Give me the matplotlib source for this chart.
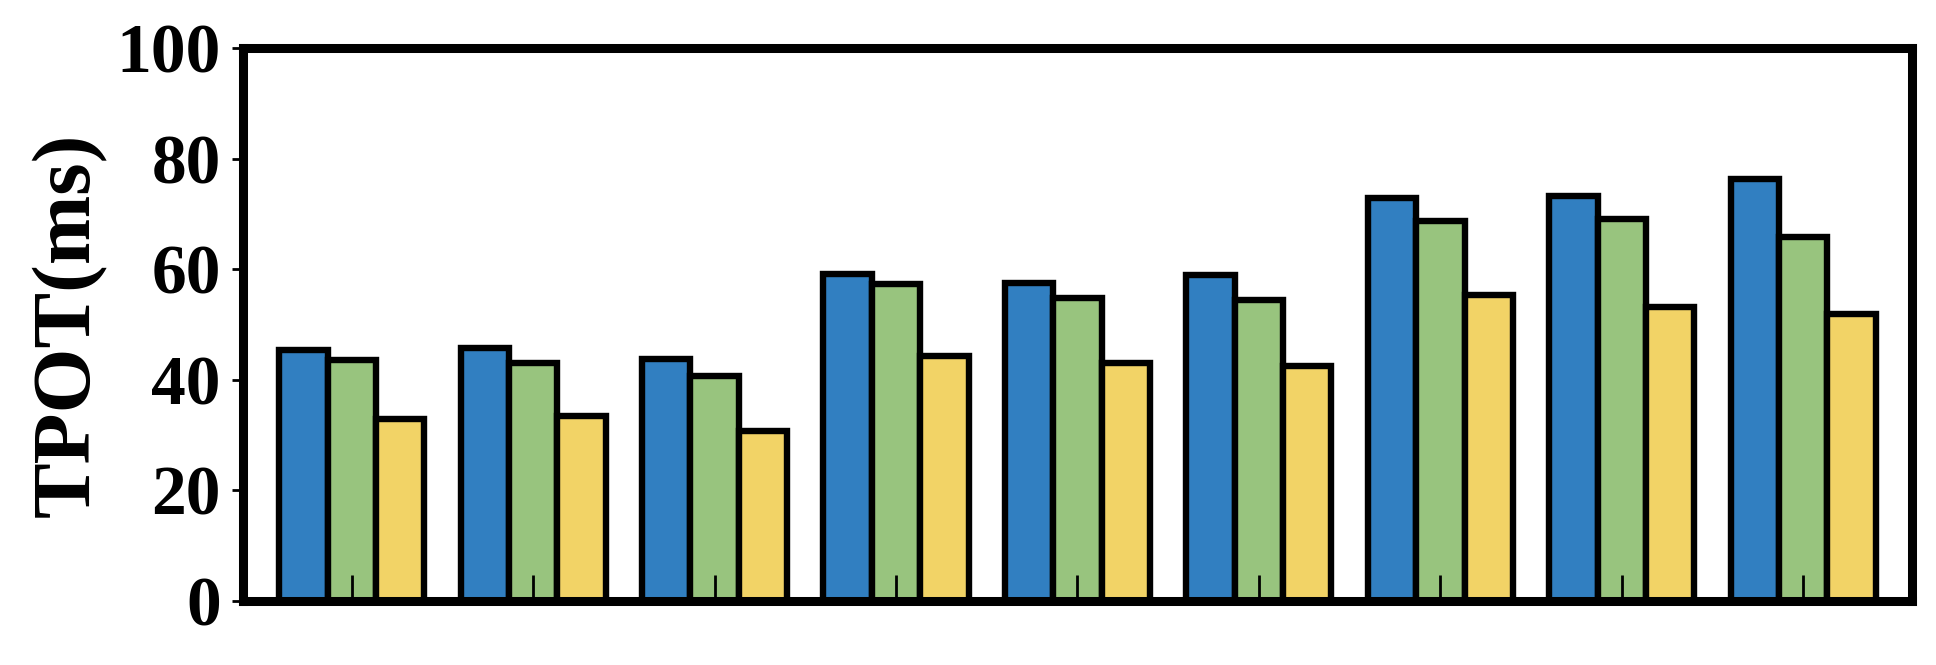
import matplotlib
matplotlib.use("Agg")
import matplotlib.pyplot as plt
from matplotlib import font_manager as fm
import numpy as np

groups = list(range(9))
series_a = [45.5, 45.7, 43.8, 59.1, 57.6, 59.0, 72.9, 73.2, 76.4]
series_b = [43.6, 43.1, 40.8, 57.3, 54.9, 54.4, 68.7, 69.1, 65.9]
series_c = [33.0, 33.5, 30.8, 44.4, 43.1, 42.6, 55.3, 53.2, 51.9]
colors = ["#317FC1", "#98C47E", "#F2D366"]
yticks = [0, 20, 40, 60, 80, 100]

# locate a Times-like bold serif font
bold_path = None
for f in fm.fontManager.ttflist:
    if 'liberation serif' in f.name.lower() and f.weight in (700, 'bold') and f.style == 'normal':
        bold_path = f.fname
        break
if bold_path is None:
    for f in fm.fontManager.ttflist:
        if 'liberationserif-bold.ttf' in f.fname.lower():
            bold_path = f.fname
            break

def fp(size):
    if bold_path:
        return fm.FontProperties(fname=bold_path, size=size)
    return fm.FontProperties(family='serif', weight='bold', size=size)

fig = plt.figure(figsize=(19.36, 6.65), dpi=100)
ax = fig.add_axes([0.1255, 0.0962, 0.9876 - 0.1255, 0.9274 - 0.0962])

x = np.arange(len(groups))
w = 0.8 / 3
for i, (vals, c) in enumerate(zip([series_a, series_b, series_c], colors)):
    ax.bar(x + (i - 1) * w, vals, width=w, color=c, edgecolor='black',
           linewidth=4.6, zorder=1)

ax.set_xlim(-0.6, 8.6)
ax.set_ylim(0, 100)
ax.set_yticks(yticks)
ax.set_yticklabels([str(t) for t in yticks], fontproperties=fp(50))
ax.set_xticks(x)
ax.set_xticklabels([])
ax.tick_params(axis='x', direction='in', length=19, width=2)
ax.tick_params(axis='y', direction='out', length=8, width=2, pad=8)
for s in ax.spines.values():
    s.set_linewidth(6.5)
ax.set_ylabel('TPOT(ms)', fontproperties=fp(60), labelpad=7)

fig.savefig('out.png', dpi=100)
